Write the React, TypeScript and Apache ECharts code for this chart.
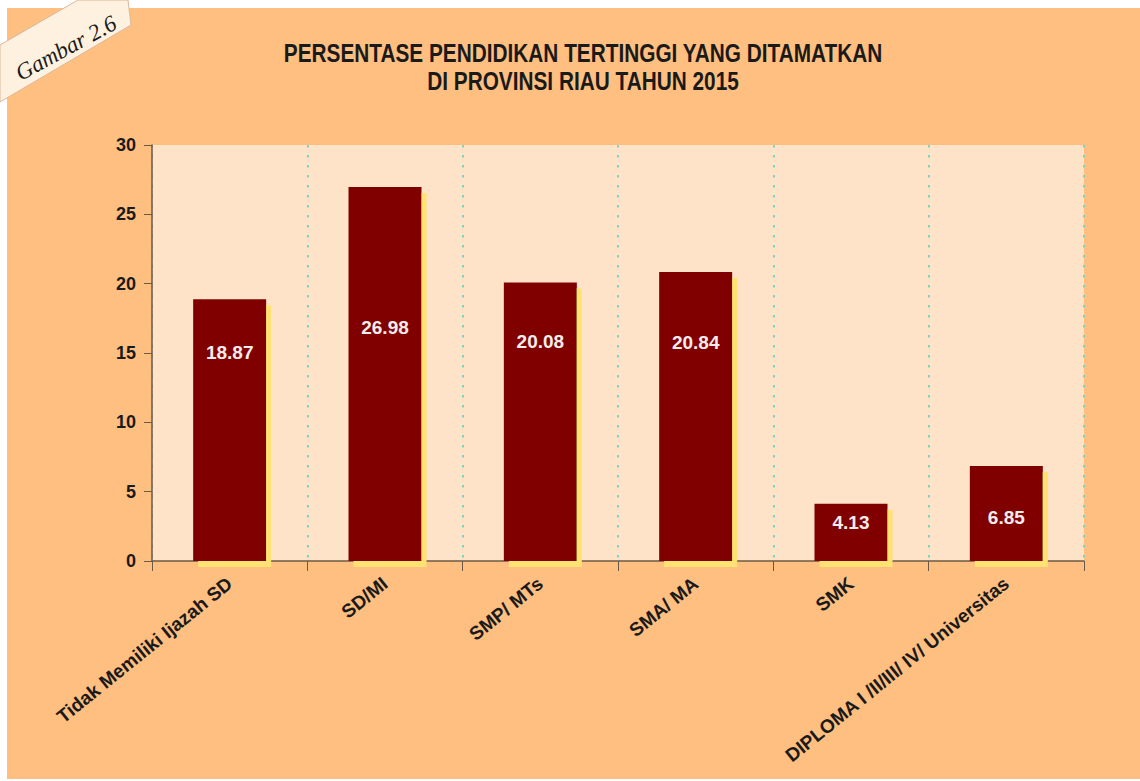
import React, { useEffect, useRef } from "react";
import * as echarts from "echarts";

const categories = [
  "Tidak Memiliki Ijazah SD",
  "SD/MI",
  "SMP/ MTs",
  "SMA/ MA",
  "SMK",
  "DIPLOMA I /II/III/ IV/ Universitas",
];
const values = [18.87, 26.98, 20.08, 20.84, 4.13, 6.85];
const yTicks = [0, 5, 10, 15, 20, 25, 30];
const titleLines = [
  "PERSENTASE PENDIDIKAN TERTINGGI YANG DITAMATKAN",
  "DI PROVINSI RIAU TAHUN 2015",
];
const tagText = "Gambar 2.6";

const SANS = "'Liberation Sans', Arial, sans-serif";

export default function App() {
  const ref = useRef<HTMLDivElement>(null);
  useEffect(() => {
    if (!ref.current) return;
    const chart = echarts.init(ref.current, undefined, { renderer: "svg" });
    const labelDy = [53, 141, 59, 70, 19, 51];
    chart.setOption({
      animation: false,
      backgroundColor: "#ffffff",
      graphic: [
        {
          type: "rect",
          z: -10,
          shape: { x: 7, y: 8, width: 1133, height: 771 },
          style: { fill: "#FFBF80" },
        },
        {
          type: "polygon",
          z: 100,
          shape: { points: [[0, 45], [78, 0], [128, 0], [131, 25], [0, 102]] },
          style: { fill: "#FFF1DF", stroke: "#D9B79A", lineWidth: 1 },
        },
        {
          type: "text",
          z: 101,
          x: 66,
          y: 48,
          rotation: 0.5,
          style: {
            text: tagText,
            fontFamily: "'Liberation Serif', 'DejaVu Serif', serif",
            fontStyle: "italic",
            fontSize: 23,
            fill: "#1a1a1a",
            align: "center",
            verticalAlign: "middle",
          },
        },
        ...titleLines.map((t, i) => ({
          type: "text",
          x: 583,
          y: 53 + i * 28,
          scaleX: 0.785,
          style: {
            text: t,
            fontFamily: SANS,
            fontWeight: "bold",
            fontSize: 26.5,
            fill: "#1a1a1a",
            align: "center",
            verticalAlign: "middle",
          },
        })),
      ],
      grid: {
        left: 152,
        right: 56,
        top: 145,
        bottom: 220,
        show: true,
        backgroundColor: "#FFE3C9",
        borderWidth: 0,
      },
      xAxis: {
        type: "category",
        data: categories,
        axisLine: { lineStyle: { color: "#6B5A45", width: 1.5 } },
        axisTick: { show: true, length: 10, lineStyle: { color: "#6B5A45" } },
        splitLine: {
          show: true,
          lineStyle: { color: "#7FD3C3", type: [2.5, 7.5], width: 2 },
        },
        axisLabel: {
          rotate: 39,
          margin: 20,
          interval: 0,
          fontFamily: SANS,
          fontWeight: "bold",
          fontSize: 19,
          color: "#1a1a1a",
        },
      },
      yAxis: {
        type: "value",
        min: yTicks[0],
        max: yTicks[yTicks.length - 1],
        interval: 5,
        axisLine: { show: true, lineStyle: { color: "#6B5A45", width: 1.5 } },
        axisTick: { show: true, length: 8, lineStyle: { color: "#6B5A45" } },
        splitLine: { show: false },
        axisLabel: {
          margin: 16,
          fontFamily: SANS,
          fontWeight: "bold",
          fontSize: 18,
          color: "#1a1a1a",
        },
      },
      series: [
        {
          type: "bar",
          barWidth: "47%",
          data: values.map((v, i) => ({
            value: v,
            label: {
              show: true,
              position: ["50%", labelDy[i]],
              align: "center",
              verticalAlign: "middle",
              formatter: (p: any) => p.value.toFixed(2),
              fontFamily: SANS,
              fontWeight: "bold",
              fontSize: 19,
              color: "#F3ECEC",
            },
          })),
          itemStyle: {
            color: "#800000",
            shadowColor: "#FFE272",
            shadowOffsetX: 5,
            shadowOffsetY: 6,
            shadowBlur: 1,
          },
        },
      ],
    });
    return () => chart.dispose();
  }, []);
  return (
    <div
      ref={ref}
      style={{ position: "absolute", left: 0, top: 0, width: 1140, height: 781 }}
    />
  );
}
